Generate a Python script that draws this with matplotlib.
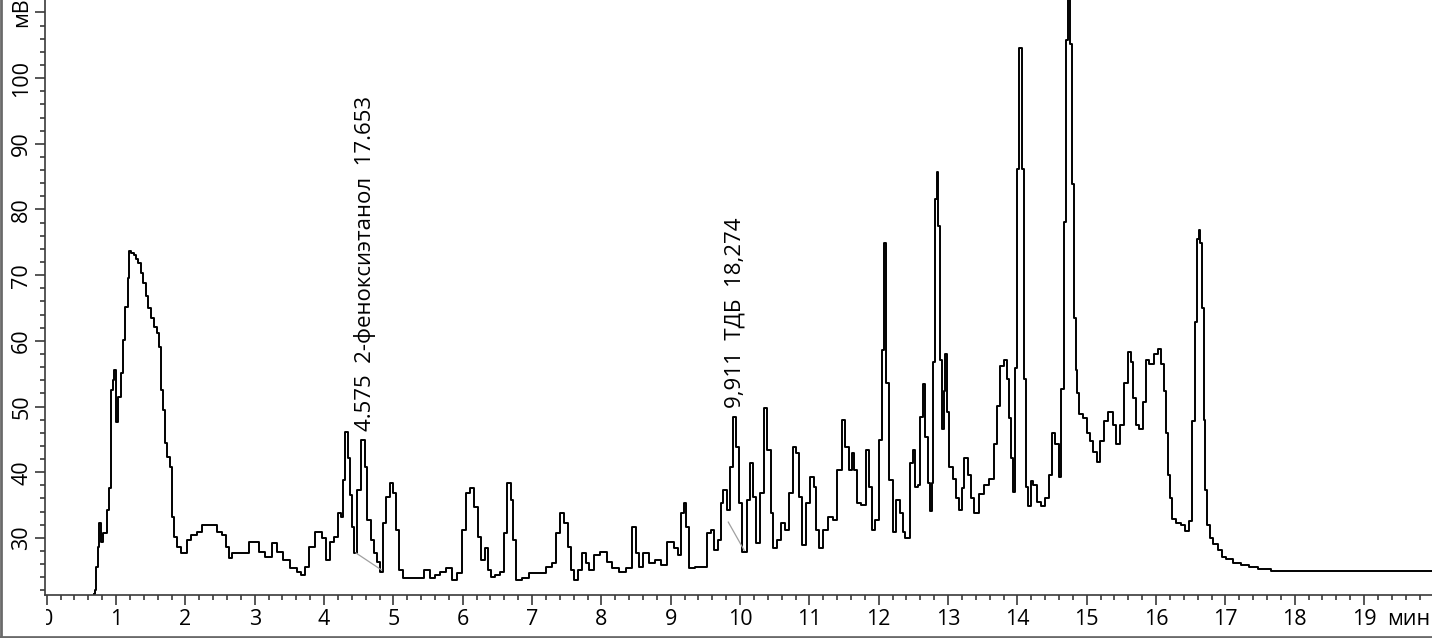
import matplotlib
matplotlib.use("Agg")
import matplotlib.pyplot as plt
from matplotlib.lines import Line2D
from matplotlib.patches import Rectangle
from matplotlib.ticker import MultipleLocator

W, H, DPI = 1432, 638, 100
plt.rcParams['font.family'] = ['Open Sans', 'DejaVu Sans']

# chromatogram trace (min, mV)
time_min = [
    0.68, 0.70, 0.72, 0.75, 0.77, 0.79, 0.84, 0.89, 0.91, 0.94, 0.96, 0.98,
    1.01, 1.05, 1.09, 1.12, 1.15, 1.18, 1.20, 1.24, 1.27, 1.30, 1.34, 1.38,
    1.41, 1.45, 1.48, 1.52, 1.56, 1.61, 1.63, 1.66, 1.69, 1.71, 1.76, 1.80,
    1.82, 1.85, 1.90, 1.96, 2.00, 2.04, 2.12, 2.21, 2.28, 2.35, 2.42, 2.49,
    2.56, 2.62, 2.64, 2.71, 2.80, 2.88, 2.95, 3.03, 3.10, 3.20, 3.29, 3.36,
    3.46, 3.57, 3.64, 3.70, 3.75, 3.82, 3.92, 4.01, 4.06, 4.11, 4.18, 4.22,
    4.26, 4.29, 4.32, 4.37, 4.39, 4.42, 4.45, 4.51, 4.56, 4.61, 4.64, 4.70,
    4.75, 4.79, 4.83, 4.87, 4.92, 4.97, 5.01, 5.06, 5.11, 5.18, 5.30, 5.40,
    5.49, 5.56, 5.64, 5.71, 5.81, 5.88, 5.95, 6.02, 6.07, 6.14, 6.19, 6.24,
    6.29, 6.34, 6.38, 6.43, 6.50, 6.57, 6.62, 6.67, 6.71, 6.74, 6.79, 6.91,
    7.01, 7.15, 7.25, 7.32, 7.37, 7.43, 7.49, 7.54, 7.58, 7.64, 7.68, 7.75,
    7.80, 7.85, 7.93, 8.04, 8.11, 8.21, 8.30, 8.40, 8.47, 8.52, 8.57, 8.64,
    8.72, 8.83, 8.90, 9.00, 9.08, 9.12, 9.17, 9.21, 9.24, 9.29, 9.40, 9.51,
    9.55, 9.60, 9.65, 9.70, 9.74, 9.78, 9.83, 9.87, 9.93, 9.96, 10.01, 10.06,
    10.13, 10.17, 10.21, 10.26, 10.32, 10.37, 10.42, 10.46, 10.50, 10.56, 10.61, 10.68,
    10.73, 10.79, 10.82, 10.88, 10.92, 10.99, 11.04, 11.08, 11.11, 11.16, 11.24, 11.31,
    11.38, 11.43, 11.50, 11.54, 11.60, 11.63, 11.67, 11.71, 11.79, 11.83, 11.89, 11.93,
    11.97, 12.03, 12.06, 12.09, 12.13, 12.18, 12.22, 12.29, 12.33, 12.36, 12.41, 12.48,
    12.51, 12.55, 12.58, 12.62, 12.65, 12.69, 12.72, 12.75, 12.78, 12.80, 12.83, 12.85,
    12.87, 12.90, 12.92, 12.95, 12.97, 13.00, 13.04, 13.09, 13.13, 13.18, 13.21, 13.26,
    13.31, 13.35, 13.40, 13.48, 13.56, 13.63, 13.69, 13.73, 13.78, 13.83, 13.86, 13.90,
    13.93, 13.95, 13.99, 14.01, 14.05, 14.07, 14.11, 14.14, 14.17, 14.21, 14.25, 14.31,
    14.38, 14.43, 14.48, 14.52, 14.57, 14.62, 14.65, 14.69, 14.72, 14.75, 14.78, 14.80,
    14.83, 14.85, 14.88, 14.91, 14.99, 15.03, 15.07, 15.12, 15.17, 15.22, 15.27, 15.35,
    15.40, 15.45, 15.51, 15.56, 15.62, 15.65, 15.69, 15.74, 15.78, 15.83, 15.87, 15.94,
    16.01, 16.05, 16.09, 16.14, 16.16, 16.18, 16.21, 16.25, 16.33, 16.40, 16.44, 16.50,
    16.54, 16.57, 16.60, 16.63, 16.65, 16.67, 16.70, 16.72, 16.76, 16.79, 16.86, 16.93,
    16.97, 17.05, 17.16, 17.29, 17.38, 17.55, 17.77, 19.98,
]
signal_mv = [
    21.5, 22.0, 25.6, 28.6, 32.3, 29.4, 30.7, 34.2, 37.6, 52.5, 54.0, 55.5,
    47.6, 51.4, 55.1, 60.1, 65.1, 69.5, 73.7, 73.4, 73.0, 72.4, 71.8, 70.3,
    68.8, 66.9, 65.0, 63.5, 62.1, 61.2, 59.0, 52.5, 49.5, 44.4, 42.3, 40.8,
    33.2, 30.1, 28.6, 27.7, 27.7, 29.7, 30.4, 30.9, 32.0, 32.0, 32.0, 30.9,
    30.4, 28.6, 26.9, 27.7, 27.7, 27.7, 29.4, 29.4, 27.8, 27.1, 29.2, 27.8,
    26.6, 25.4, 24.8, 24.3, 25.6, 28.6, 30.9, 30.0, 26.6, 29.4, 30.1, 33.8,
    33.2, 38.8, 46.1, 42.2, 36.5, 31.6, 27.7, 37.3, 44.9, 40.8, 32.7, 29.7,
    27.7, 26.3, 24.8, 32.3, 36.2, 38.3, 36.8, 31.2, 25.1, 23.9, 23.9, 23.9,
    25.1, 23.9, 24.3, 24.8, 25.4, 23.6, 24.6, 31.2, 36.8, 37.6, 34.7, 30.1,
    26.6, 28.5, 25.1, 24.0, 24.4, 24.8, 30.7, 38.3, 35.8, 29.7, 23.6, 23.9,
    24.6, 24.6, 25.6, 26.2, 30.7, 33.8, 32.3, 28.6, 25.1, 23.6, 25.1, 27.7,
    26.2, 25.1, 27.4, 27.8, 26.3, 25.4, 24.8, 25.4, 31.6, 27.7, 25.6, 27.7,
    26.2, 26.6, 25.9, 29.4, 28.5, 27.4, 33.8, 35.3, 31.6, 25.4, 25.5, 25.6,
    30.7, 31.2, 28.1, 29.7, 35.3, 37.3, 34.2, 40.8, 48.4, 43.8, 35.3, 27.8,
    35.8, 41.4, 36.2, 29.2, 36.8, 49.8, 43.4, 33.8, 28.5, 29.7, 32.3, 31.2,
    36.8, 43.8, 42.9, 36.2, 28.9, 35.3, 39.3, 37.7, 31.2, 28.5, 31.2, 33.2,
    32.7, 40.3, 47.9, 43.8, 40.3, 42.9, 40.3, 35.3, 35.0, 43.4, 37.7, 31.2,
    32.7, 44.9, 58.6, 74.9, 53.6, 38.8, 30.9, 35.8, 33.8, 30.9, 30.0, 41.4,
    43.4, 37.7, 38.0, 48.4, 53.5, 45.3, 38.4, 34.1, 38.4, 56.8, 81.6, 85.7,
    77.5, 57.1, 46.6, 52.3, 58.0, 49.2, 40.8, 39.0, 36.1, 34.2, 37.6, 42.2,
    39.6, 36.1, 33.8, 36.7, 38.0, 39.0, 44.3, 50.1, 56.2, 57.1, 54.2, 48.2,
    42.2, 37.0, 55.9, 86.1, 104.6, 86.1, 54.2, 37.7, 34.8, 38.7, 38.0, 35.5,
    34.8, 36.1, 39.6, 46.0, 44.3, 39.3, 52.7, 78.1, 105.8, 116.0, 105.2, 83.9,
    63.5, 55.6, 52.0, 48.9, 48.3, 46.0, 44.8, 43.1, 41.6, 44.8, 47.8, 49.2,
    47.2, 44.3, 47.2, 53.6, 58.3, 56.8, 51.3, 47.2, 46.6, 50.7, 57.1, 56.5,
    58.0, 58.7, 56.5, 52.3, 46.0, 39.6, 36.1, 32.9, 32.3, 32.0, 31.0, 32.6,
    47.8, 62.9, 75.5, 76.9, 74.9, 65.0, 47.9, 37.3, 32.0, 30.0, 29.1, 28.2,
    27.1, 26.8, 26.2, 25.9, 25.6, 25.3, 25.0, 25.0,
]

# integration baselines under the two identified peaks
base_t = [[4.46, 4.83], [9.83, 10.06]]
base_v = [[27.7, 25.1], [32.4, 28.1]]

# peak labels
peak_t = [4.59, 9.93]
peak_v = [46.3, 49.8]
peak_labels = ["4.575  2-феноксиэтанол  17.653", "9,911  ТДБ  18,274"]

x_ticks = list(range(0, 20))
x_ticklabels = [str(i) for i in x_ticks]
y_ticks = [30, 40, 50, 60, 70, 80, 90, 100, 110]
y_ticklabels = ["30", "40", "50", "60", "70", "80", "90", "100", "мВ"]

fig = plt.figure(figsize=(W / DPI, H / DPI), dpi=DPI)
ax = fig.add_axes([45 / W, 43 / H, 1 - 45 / W, 1 - 43 / H])

# detector output is sampled, so draw it as steps
ax.plot(time_min, signal_mv, color="black", lw=1.4, drawstyle="steps-mid")
for bt, bv in zip(base_t, base_v):
    ax.plot(bt, bv, color="#a0a0a0", lw=0.9)
for t, v, s in zip(peak_t, peak_v, peak_labels):
    ax.text(t, v, s, rotation=90, ha="center", va="bottom", fontsize=16)

ax.set_xlim(-0.025, 19.98)
ax.set_ylim(21.3, 111.9)

for side in ("top", "right"):
    ax.spines[side].set_visible(False)
for side in ("left", "bottom"):
    ax.spines[side].set_color("#3a3a3a")
    ax.spines[side].set_linewidth(1.2)

ax.set_xticks(x_ticks, x_ticklabels)
ax.set_yticks(y_ticks, y_ticklabels, rotation=90, va="center")
ax.xaxis.set_minor_locator(MultipleLocator(0.2))
ax.yaxis.set_minor_locator(MultipleLocator(2))
ax.tick_params(which="major", length=7.2, width=1.2, color="#3a3a3a",
               labelsize=15.5)
ax.tick_params(which="minor", length=3.6, width=1.2, color="#3a3a3a")
ax.tick_params(axis="x", pad=3)
ax.tick_params(axis="y", pad=2)

# unit label at the end of the time axis, covering part of the last tick label
ax.annotate("мин", xy=(1, 0), xycoords="axes fraction", xytext=(-1, -10.2),
            textcoords="offset points", ha="right", va="top", fontsize=15.5,
            bbox=dict(facecolor="white", edgecolor="none", pad=1))

# the y-axis panel hides the left half of the "0" label
fig.add_artist(Rectangle((0, 0), 46 / W, 41 / H, transform=fig.transFigure,
                         facecolor="white", edgecolor="none", zorder=10))
# window frame (left and bottom edges)
fig.add_artist(Line2D([1 / W, 1 / W], [0, 1], transform=fig.transFigure,
                      color="#6a6a6a", lw=2, zorder=11))
fig.add_artist(Line2D([0, 1], [1 / H, 1 / H], transform=fig.transFigure,
                      color="#6a6a6a", lw=2, zorder=11))

fig.savefig("out.png", dpi=DPI)
